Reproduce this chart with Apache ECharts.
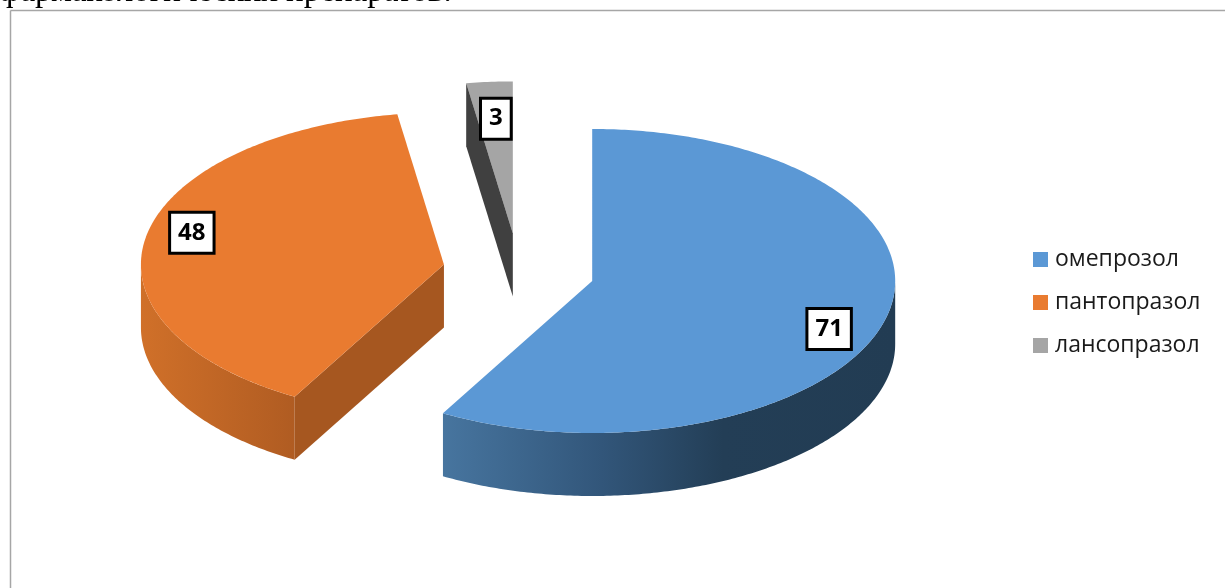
<!DOCTYPE html>
<html>
<head>
<meta charset="utf-8">
<style>html,body{margin:0;padding:0;background:#fff}#c{width:1225px;height:588px}</style>
<script src="https://cdn.jsdelivr.net/npm/echarts@6/dist/echarts.min.js"></script>
</head>
<body>
<div id="c"></div>
<script>
// ---- data ----
const categories = ['омепрозол', 'пантопразол', 'лансопразол'];
const values = [71, 48, 3];
const captionText = 'фармакологических препаратов.';

// ---- layout / style ----
const pie = { cx: 518.7, cy: 271.3, rx: 303, ry: 152, depth: 63, explode: 76 };
const topColors = ['#5b98d5', '#e97b30', '#a5a5a5'];
const wallGradients = [
  [[0, '#47759f'], [0.35, '#32567a'], [0.62, '#233e56'], [1, '#223c53']],
  [[0, '#d07029'], [1, '#b05c22']],
  [[0, '#7c7c7c'], [1, '#7c7c7c']]
];
const innerWallColors = [null, '#a65720', '#404040'];
// label centre relative to the slice apex, in radii
const labelAnchors = [[0.782, 0.316], [-0.832, -0.209], [-0.056, -0.755]];

const total = values.reduce((a, b) => a + b, 0);
const starts = [];
values.reduce((acc, v, i) => { starts[i] = acc; return acc + v / total * 2 * Math.PI; }, 0);

function rimPoints(c, a0, a1, dy) {
  const pts = [], n = Math.max(4, Math.ceil((a1 - a0) / 0.012));
  for (let k = 0; k <= n; k++) {
    const a = a0 + (a1 - a0) * k / n;
    pts.push([c.x + pie.rx * Math.sin(a), c.y - pie.ry * Math.cos(a) + dy]);
  }
  return pts;
}

function cutWall(c, a, color) {
  const p = [c.x + pie.rx * Math.sin(a), c.y - pie.ry * Math.cos(a)];
  return {
    type: 'polygon',
    shape: { points: [[c.x, c.y], p, [p[0], p[1] + pie.depth], [c.x, c.y + pie.depth]] },
    style: { fill: color }
  };
}

function renderSlice(idx) {
  return function (params, api) {
    const value = api.value(0);
    const a0 = starts[idx], a1 = a0 + value / total * 2 * Math.PI, mid = (a0 + a1) / 2;
    const c = {
      x: pie.cx + pie.explode * Math.sin(mid),
      y: pie.cy - pie.explode * 0.5 * Math.cos(mid)
    };
    const children = [];
    // outer wall: visible part of the rim is the lower half of the ellipse
    const wa0 = Math.max(a0, Math.PI / 2), wa1 = Math.min(a1, 3 * Math.PI / 2);
    if (wa1 > wa0) {
      const up = rimPoints(c, wa0, wa1, 0), down = rimPoints(c, wa0, wa1, pie.depth).reverse();
      const xs = up.map(p => p[0]);
      const xl = Math.min.apply(null, xs), xr = Math.max.apply(null, xs);
      children.push({
        type: 'polygon', shape: { points: up.concat(down) },
        style: {
          fill: {
            type: 'linear', global: true, x: xl, y: 0, x2: xr, y2: 0,
            colorStops: wallGradients[idx].map(s => ({ offset: s[0], color: s[1] }))
          }
        }
      });
    }
    // cut that faces the viewer, under the top face for the orange slice
    if (idx === 1) children.push(cutWall(c, a0, innerWallColors[idx]));
    // top face
    children.push({
      type: 'polygon',
      shape: { points: [[c.x, c.y]].concat(rimPoints(c, a0, a1, 0)) },
      style: { fill: topColors[idx] }
    });
    // the dark cut of the thin slice sits in front of its top face
    if (idx === 2) children.push(cutWall(c, a0, innerWallColors[idx]));
    return { type: 'group', children: children };
  };
}

function renderLabel(idx) {
  return function (params, api) {
    const value = api.value(0);
    const a0 = starts[idx], a1 = a0 + value / total * 2 * Math.PI, mid = (a0 + a1) / 2;
    const x = pie.cx + pie.explode * Math.sin(mid) + labelAnchors[idx][0] * pie.rx;
    const y = pie.cy - pie.explode * 0.5 * Math.cos(mid) + labelAnchors[idx][1] * pie.ry;
    return {
      type: 'text', z2: 10,
      style: {
        x: x, y: y, text: String(value), align: 'center', verticalAlign: 'middle',
        font: 'bold 24px "Open Sans"', fill: '#000',
        backgroundColor: '#fff', borderColor: '#000', borderWidth: 3,
        padding: [7, 7, 7, 7]
      }
    };
  };
}

const sliceSeries = categories.map((name, i) => ({
  type: 'custom', name: name, coordinateSystem: 'none',
  data: [[values[i]]], renderItem: renderSlice(i), z: 2,
  itemStyle: { color: topColors[i] }, silent: true, animation: false
}));
const labelSeries = categories.map((name, i) => ({
  type: 'custom', name: name, coordinateSystem: 'none',
  data: [[values[i]]], renderItem: renderLabel(i), z: 5,
  itemStyle: { color: topColors[i] }, silent: true, animation: false
}));

const chart = echarts.init(document.getElementById('c'), null, { renderer: 'canvas' });
chart.setOption({
  backgroundColor: '#fff',
  animation: false,
  legend: {
    orient: 'vertical', left: 1028, top: 243, itemWidth: 15, itemHeight: 15, itemGap: 20,
    icon: 'rect', selectedMode: false,
    textStyle: { fontFamily: 'Open Sans', fontSize: 23, lineHeight: 23, color: '#1a1a1a', padding: [0, 0, 0, 2] },
    data: categories
  },
  graphic: [
    { type: 'line', silent: true, shape: { x1: 10.5, y1: 10.5, x2: 1225, y2: 10.5 }, style: { stroke: '#a6a6a6', lineWidth: 1.5 } },
    { type: 'line', silent: true, shape: { x1: 10.5, y1: 10.5, x2: 10.5, y2: 588 }, style: { stroke: '#a6a6a6', lineWidth: 1.5 } },
    { type: 'text', silent: true, style: { x: -1, y: 9, text: captionText, font: '33px "Liberation Serif"', fill: '#000', verticalAlign: 'bottom' } }
  ],
  series: sliceSeries.concat(labelSeries)
});
</script>
</body>
</html>
